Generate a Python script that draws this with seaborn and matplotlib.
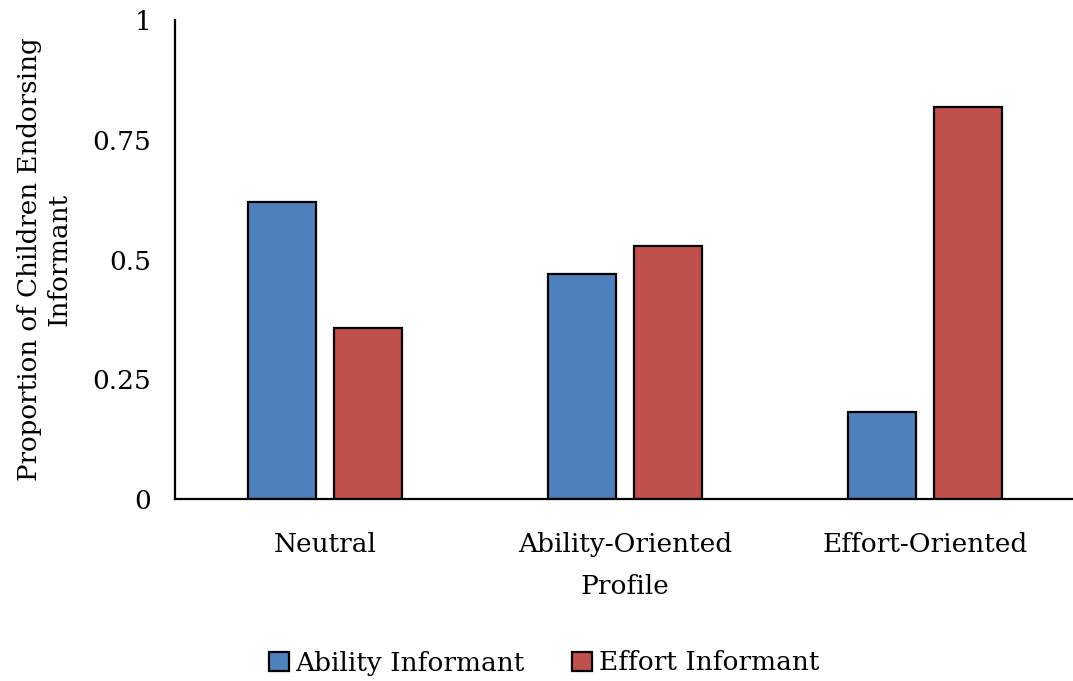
import matplotlib
matplotlib.use("Agg")
import matplotlib.pyplot as plt
import seaborn as sns
import pandas as pd

profiles = ["Neutral", "Ability-Oriented", "Effort-Oriented"]
informants = ["Ability Informant", "Effort Informant"]
ability_values = [0.62, 0.47, 0.182]
effort_values = [0.357, 0.528, 0.818]
y_ticks = [0, 0.25, 0.5, 0.75, 1]
y_tick_labels = ["0", "0.25", "0.5", "0.75", "1"]

colors = ["#4F81BD", "#C0504D"]

df = pd.DataFrame({
    "Profile": profiles * 2,
    "Informant": [informants[0]] * 3 + [informants[1]] * 3,
    "Proportion": ability_values + effort_values,
})

sns.set_theme(style="white")
plt.rcParams["font.family"] = ["DejaVu Serif"]
plt.rcParams["text.color"] = "black"
plt.rcParams["axes.labelcolor"] = "black"
plt.rcParams["xtick.color"] = "black"
plt.rcParams["ytick.color"] = "black"

FS = 19

fig = plt.figure(figsize=(10.73, 6.81), dpi=100)
ax = fig.add_axes([175 / 1073, 1 - 499 / 681, 900 / 1073, 479 / 681])

sns.barplot(data=df, x="Profile", y="Proportion", hue="Informant",
            order=profiles, hue_order=informants, palette=colors,
            width=0.567, gap=0.2, edgecolor="black", linewidth=1.6,
            saturation=1, ax=ax, legend=True)

ax.set_xlim(-0.5, 2.5)
ax.set_ylim(0, 1)
ax.set_yticks(y_ticks)
ax.set_yticklabels(y_tick_labels, fontsize=FS)
ax.tick_params(axis="x", labelsize=FS, length=0, pad=24)
ax.tick_params(axis="y", length=0, pad=17)
ax.set_xlabel("Profile", fontsize=FS, labelpad=12)
ax.set_ylabel("Proportion of Children Endorsing\nInformant", fontsize=18.8,
              linespacing=1.2)
ax.yaxis.set_label_coords(-0.115, 0.5)

for side in ["top", "right"]:
    ax.spines[side].set_visible(False)
for side in ["left", "bottom"]:
    ax.spines[side].set_color("black")
    ax.spines[side].set_linewidth(1.6)

handles, labels = ax.get_legend_handles_labels()
ax.legend_.remove()
fig.legend(handles, labels, loc="center", bbox_to_anchor=(544 / 1073, 1 - 663 / 681),
           ncol=2, frameon=False, fontsize=FS, handlelength=0.75, handleheight=0.75,
           handletextpad=0.25, columnspacing=1.8)

fig.savefig("out.png", dpi=100)
